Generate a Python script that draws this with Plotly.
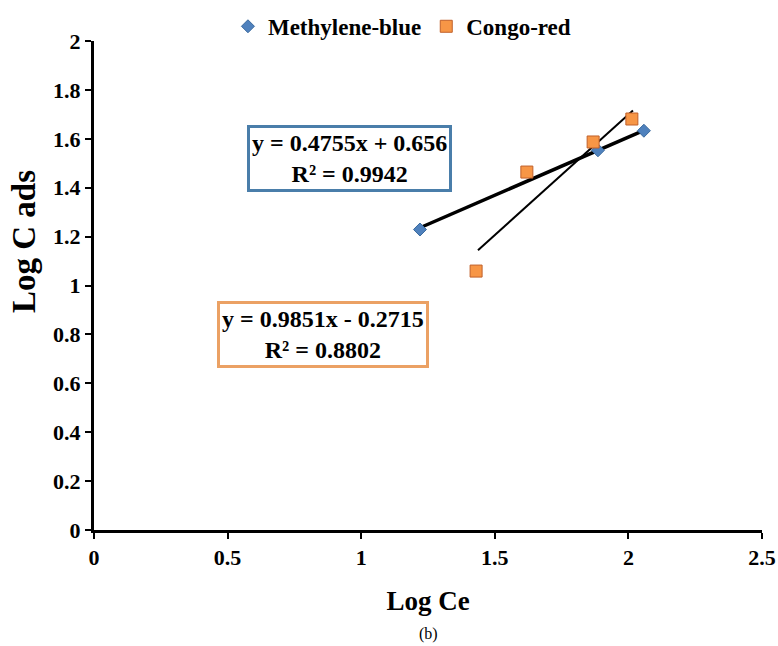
import plotly.graph_objects as go

mb_x = [1.22, 1.886, 2.058]
mb_y = [1.229, 1.553, 1.633]
cr_x = [1.430, 1.620, 1.868, 2.013]
cr_y = [1.059, 1.464, 1.587, 1.681]
mb_slope, mb_int = 0.4755, 0.656
cr_slope, cr_int = 0.9851, -0.2715
mb_eq = ["y = 0.4755x + 0.656", "R² = 0.9942"]
cr_eq = ["y = 0.9851x - 0.2715", "R² = 0.8802"]
x_ticks = [0, 0.5, 1, 1.5, 2, 2.5]
y_ticks = [0, 0.2, 0.4, 0.6, 0.8, 1, 1.2, 1.4, 1.6, 1.8, 2]

FONT = "Liberation Serif"

def bold_lines(lines):
    return "<br>".join(f"<b>{s}</b>" for s in lines)

fig = go.Figure()
mb_lx = [min(mb_x), max(mb_x)]
cr_lx = [min(cr_x) + 0.007, max(cr_x) + 0.004]
fig.add_trace(go.Scatter(x=mb_lx, y=[mb_slope * v + mb_int for v in mb_lx], mode="lines",
                         line=dict(color="black", width=3.5), showlegend=False, hoverinfo="skip"))
fig.add_trace(go.Scatter(x=cr_lx, y=[cr_slope * v + cr_int for v in cr_lx], mode="lines",
                         line=dict(color="black", width=2), showlegend=False, hoverinfo="skip"))
fig.add_trace(go.Scatter(x=mb_x, y=mb_y, mode="markers", name="<b>Methylene-blue</b>",
                         marker=dict(symbol="diamond", size=10, color="#4f81bd",
                                     line=dict(color="#3a6a9e", width=1))))
fig.add_trace(go.Scatter(x=cr_x, y=cr_y, mode="markers", name="<b>Congo-red</b>",
                         marker=dict(symbol="square", size=12, color="#f79646",
                                     line=dict(color="#c0602a", width=1))))

fig.add_annotation(x=0.958, y=1.52, xref="x", yref="y", text=bold_lines(mb_eq), showarrow=False,
                   font=dict(family=FONT, size=24, color="black"), align="center",
                   bordercolor="#4a7eaa", borderwidth=3, borderpad=2, bgcolor="white")
fig.add_annotation(x=0.857, y=0.80, xref="x", yref="y", text=bold_lines(cr_eq), showarrow=False,
                   font=dict(family=FONT, size=24, color="black"), align="center",
                   bordercolor="#eba164", borderwidth=3, borderpad=2, bgcolor="white")
fig.add_annotation(x=0.5, y=0, xref="paper", yref="paper", yshift=-115, text="(b)",
                   showarrow=False, font=dict(family=FONT, size=16, color="black"))
fig.add_annotation(x=-0.1048, y=0.591, xref="paper", yref="paper", text="<b>Log C ads</b>",
                   textangle=-90, showarrow=False, xanchor="center", yanchor="middle",
                   font=dict(family=FONT, size=33, color="black"))

fig.update_layout(
    width=778, height=646,
    margin=dict(l=94, r=16, t=41, b=116, autoexpand=False),
    paper_bgcolor="white", plot_bgcolor="white",
    font=dict(family=FONT, color="black"),
    legend=dict(orientation="h", x=0.461, y=1.03, xanchor="center", yanchor="middle",
                font=dict(family=FONT, size=23, color="black"), itemwidth=30,
                tracegroupgap=0, bgcolor="rgba(0,0,0,0)"),
    xaxis=dict(range=[0, 2.5], tickvals=x_ticks, ticktext=[f"<b>{v:g}</b>" for v in x_ticks],
               showgrid=False, zeroline=False, showline=True, linecolor="black", linewidth=3,
               ticks="outside", ticklen=6, tickwidth=2, tickcolor="black", automargin=False,
               tickfont=dict(family=FONT, size=22, color="black"),
               title=dict(text="<b>Log Ce</b>", font=dict(family=FONT, size=27, color="black"), standoff=22)),
    yaxis=dict(range=[0, 2], tickvals=y_ticks, ticktext=[f"<b>{v:g}</b>" for v in y_ticks],
               showgrid=False, zeroline=False, showline=True, linecolor="black", linewidth=3,
               ticks="outside", ticklen=6, tickwidth=2, tickcolor="black", automargin=False,
               tickfont=dict(family=FONT, size=22, color="black")),
)

fig.write_html("out.html")
